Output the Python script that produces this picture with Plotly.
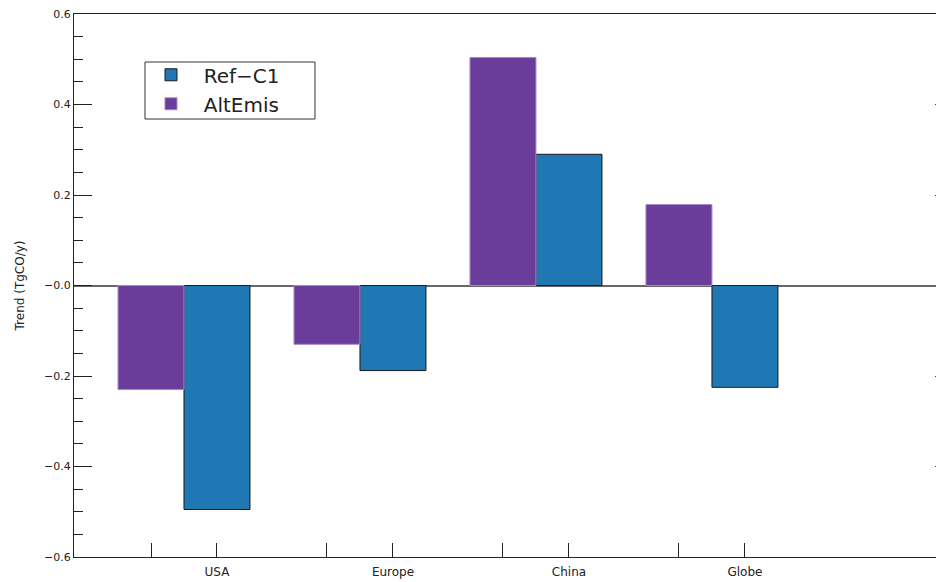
import plotly.graph_objects as go

regions = ["USA", "Europe", "China", "Globe"]
ref_c1 = [-0.495, -0.188, 0.290, -0.225]
alt_emis = [-0.230, -0.130, 0.504, 0.179]
ytick_vals = [-0.6, -0.4, -0.2, 0.0, 0.2, 0.4, 0.6]
ytick_text = ["\u22120.6", "\u22120.4", "\u22120.2", "\u22120.0", "0.2", "0.4", "0.6"]

BLUE = "#1F78B4"
PURPLE = "#6A3D9A"
W = 0.375
idx = list(range(len(regions)))
x_blue = [i for i in idx]
x_purple = [i - W for i in idx]
NB = "\u00a0"

fig = go.Figure()
fig.add_trace(go.Bar(x=x_blue, y=ref_c1, width=W, name=NB * 2 + "Ref\u2212C1",
                     legendgroup="a",
                     marker=dict(color=BLUE, line=dict(color="#1a1a1a", width=1))))
fig.add_trace(go.Bar(x=x_purple, y=alt_emis, width=W, name=NB * 2 + "AltEmis",
                     legendgroup="b",
                     marker=dict(color=PURPLE, line=dict(color="#a58bc9", width=1))))

tickvals = sorted(x_purple + x_blue)
ticktext = [regions[int(round(v))] if abs(v - round(v)) < 1e-9 else "" for v in tickvals]

# page body has an 8px margin, so the figure is sized/offset to compensate
fig.update_layout(
    width=936, height=574,
    margin=dict(l=66, r=0, t=6, b=25),
    plot_bgcolor="white", paper_bgcolor="white",
    barmode="overlay",
    font=dict(family="DejaVu Sans", size=11, color="#222"),
    showlegend=True,
    legend=dict(x=0.0885, y=0.924, xanchor="left", yanchor="top",
                borderwidth=0, bgcolor="rgba(0,0,0,0)",
                font=dict(family="DejaVu Sans", size=20, color="#222"),
                traceorder="normal", itemwidth=30, tracegroupgap=0),
    shapes=[dict(type="rect", xref="paper", yref="paper",
                 x0=0.0816, x1=0.2770, y0=0.8066, y1=0.9116,
                 line=dict(color="#333", width=1), fillcolor="white", layer="above")],
    xaxis=dict(range=[-0.8125, 4.131], tickmode="array", tickvals=tickvals,
               ticktext=ticktext, ticks="inside", ticklen=14, tickcolor="#222",
               showline=True, linecolor="#222", linewidth=1, mirror=True,
               showgrid=False, zeroline=False, automargin=False,
               ticklabelstandoff=4,
               tickfont=dict(family="DejaVu Sans", size=12)),
    yaxis=dict(range=[-0.6, 0.6], tickmode="array", tickvals=ytick_vals,
               ticktext=ytick_text, ticks="inside", ticklen=18, tickcolor="#222",
               showline=True, linecolor="#222", linewidth=1, mirror=False,
               showgrid=False, zeroline=True, zerolinecolor="#666", zerolinewidth=2,
               automargin=False, ticklabeloverflow="allow",
               title=dict(text="Trend (TgCO/y)", font=dict(size=12), standoff=16),
               minor=dict(ticks="inside", ticklen=9, dtick=0.05, tickcolor="#222"),
               tickfont=dict(family="DejaVu Sans", size=11)),
    yaxis2=dict(range=[-0.6, 0.6], overlaying="y", side="right", tickmode="array",
                tickvals=[-0.4, -0.2, 0.2, 0.4], showticklabels=False, ticks="inside",
                ticklen=9, tickcolor="#444", showline=False, showgrid=False,
                zeroline=False, automargin=False),
)
fig.add_trace(go.Scatter(x=[None], y=[None], yaxis="y2", showlegend=False, hoverinfo="skip"))

fig.write_html("out.html")
